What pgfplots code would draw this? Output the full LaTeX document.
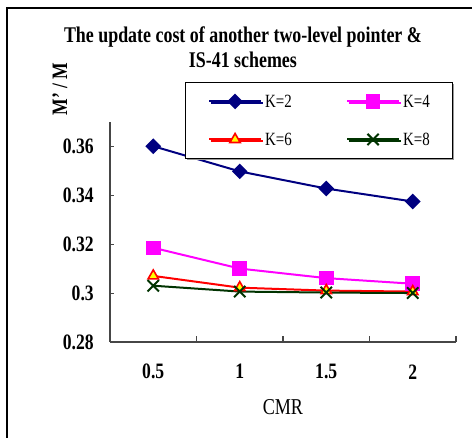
\documentclass[border=0pt]{standalone}
\usepackage{fontspec}
\setmainfont{Liberation Serif}[FakeStretch=0.8]
\usepackage{pgfplots}
\pgfplotsset{compat=1.18}
\usetikzlibrary{shadows}

\definecolor{knavy}{RGB}{0,0,128}
\definecolor{kmag}{RGB}{255,0,255}
\definecolor{kred}{RGB}{255,0,0}
\definecolor{kyel}{RGB}{255,255,0}
\definecolor{kgreen}{RGB}{0,51,0}
\definecolor{axgray}{RGB}{70,70,70}

\begin{document}
\begin{tikzpicture}
% page = 472 x 438 px, 1px = 0.75pt
\useasboundingbox (0,0) rectangle (354pt,328.5pt);
\draw[line width=1.2pt] (5.1pt,-10pt) -- (5.1pt,322.5pt) -- (370pt,322.5pt);

\node[align=center, font=\fontsize{16.8}{18.75}\selectfont\bfseries] at (182.2pt,292.9pt)
  {The update cost of another two-level pointer \&\\IS-41 schemes};
\node[rotate=90, font=\fontsize{16.5}{19}\selectfont\bfseries] at (45pt,261.7pt) {M{\char"0027} / M};
\node[font=\fontsize{17}{20}\selectfont] at (212.2pt,23.5pt) {CMR};

\begin{axis}[
    at={(82.5pt,72pt)}, anchor=south west,
    scale only axis, width=259.5pt, height=165.2pt,
    xmin=0, xmax=4, ymin=0.28, ymax=0.37,
    axis x line=bottom, axis y line=left,
    axis line style={-, axgray, line width=0.8pt},
    tick align=inside,
    major tick length=3pt,
    tick style={axgray, line width=0.8pt},
    xtick={0.5,1.5,2.5,3.5},
    xticklabels={0.5,1,1.5,2},
    xtick style={draw=none},
    extra x ticks={1,2,3,4},
    extra x tick labels={},
    extra x tick style={grid=none, major tick length=4.5pt, xtick style={draw=axgray}},
    ytick={0.28,0.3,0.32,0.34,0.36},
    yticklabels={0.28,0.3,0.32,0.34,0.36},
    ticklabel style={font=\fontsize{16.5}{20}\selectfont\bfseries},
    xticklabel style={anchor=center, inner sep=0pt, yshift=-22.3pt},
    yticklabel style={anchor=east, inner sep=0pt, xshift=-12pt},
    clip=false,
    legend columns=2,
    legend style={
        at={(0.2168,1.180)}, anchor=north west,
        draw=black, line width=0.6pt, fill=white,
        drop shadow={shadow xshift=1.2pt, shadow yshift=-1.2pt, fill=gray!80, opacity=1},
        inner xsep=17pt, inner ysep=9pt,
        font=\fontsize{14}{16}\selectfont,
        nodes={inner sep=0pt, text height=9.5pt, text depth=1pt},
        row sep=18pt,
        column sep=2.25pt,
    },
    legend image code/.code={
        \draw[mark repeat=2, mark phase=2] plot coordinates {(0pt,0pt) (19.5pt,0pt) (39pt,0pt)};
    },
]
\addplot[knavy, line width=1.5pt, mark=square*, mark size=3.4pt,
    mark options={rotate=45, fill=knavy, draw=knavy}]
    coordinates {(0.5,0.3600) (1.5,0.3497) (2.5,0.3427) (3.5,0.3374)};
\addplot[kmag, line width=1.5pt, mark=square*, mark size=4.7pt,
    mark options={fill=kmag, draw=kmag}]
    coordinates {(0.5,0.3185) (1.5,0.3100) (2.5,0.3061) (3.5,0.3038)};
\addplot[kred, line width=1.5pt, mark=triangle*, mark size=4.5pt,
    mark options={fill=kyel, draw=kred, line width=1.2pt}]
    coordinates {(0.5,0.3070) (1.5,0.3022) (2.5,0.3010) (3.5,0.3006)};
\addplot[kgreen, line width=1.5pt, mark=x, mark size=6pt,
    mark options={draw=kgreen, line width=1.5pt}]
    coordinates {(0.5,0.3030) (1.5,0.3006) (2.5,0.3002) (3.5,0.3000)};
\legend{\makebox[58.5pt][l]{K=2}, K=4, \makebox[58.5pt][l]{K=6}, K=8}
\end{axis}
\end{tikzpicture}
\end{document}
